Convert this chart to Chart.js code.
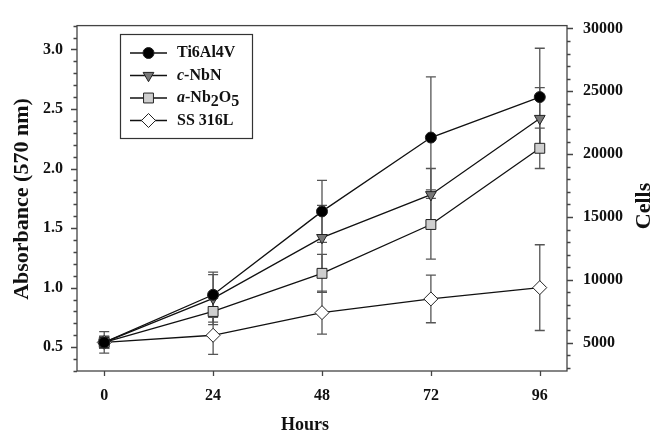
<!DOCTYPE html>
<html>
<head>
<meta charset="utf-8">
<script src="https://cdn.jsdelivr.net/npm/chart.js@4"></script>
<style>
  html, body { margin: 0; padding: 0; background: #fff; }
</style>
</head>
<body>
<canvas id="chart" width="654" height="434"></canvas>
<script>
// === Data ===
const hours = [0, 24, 48, 72, 96];
const absTicks = [0.5, 1.0, 1.5, 2.0, 2.5, 3.0];
const cellTicks = [5000, 10000, 15000, 20000, 25000, 30000];

const ti6al4v = [0.54, 0.94, 1.64, 2.26, 2.60];
const ti6al4vErr = [0.05, 0.19, 0.26, 0.51, 0.41];
const cNbN = [0.54, 0.91, 1.42, 1.78, 2.42];
const cNbNErr = [0.05, 0.20, 0.27, 0.22, 0.26];
const aNb2O5 = [0.54, 0.80, 1.12, 1.53, 2.17];
const aNb2O5Err = [0.05, 0.11, 0.16, 0.29, 0.17];
const ss316L = [0.54, 0.60, 0.79, 0.905, 1.00];
const ss316LErr = [0.09, 0.16, 0.18, 0.20, 0.36];

const seriesNames = ["Ti6Al4V", "c-NbN", "a-Nb2O5", "SS 316L"];
// legend text pieces: [text, "" | "i" (italic) | "sub"]
const legendParts = [
  [["Ti6Al4V", ""]],
  [["c", "i"], ["-NbN", ""]],
  [["a", "i"], ["-Nb", ""], ["2", "sub"], ["O", ""], ["5", "sub"]],
  [["SS 316L", ""]],
];

const FONT = "'Liberation Serif', 'Times New Roman', serif";
const INK = "#111";

function series(i, vals, err, style, fill, radius, rotation) {
  return {
    label: seriesNames[i],
    data: hours.map((h, k) => ({ x: h, y: vals[k] })),
    err: err,
    borderColor: "#111",
    borderWidth: 1.3,
    pointStyle: style,
    pointRadius: radius,
    pointHoverRadius: radius,
    pointRotation: rotation || 0,
    pointBackgroundColor: fill,
    pointBorderColor: "#222",
    pointBorderWidth: 1,
    tension: 0,
    fill: false,
  };
}

const datasets = [
  series(0, ti6al4v, ti6al4vErr, "circle", "#000", 5.5),
  series(1, cNbN, cNbNErr, "triangle", "#777", 6.2, 180),
  series(2, aNb2O5, aNb2O5Err, "rect", "#cfcfcf", 7),
  series(3, ss316L, ss316LErr, "rectRot", "#fff", 7),
];

// error bars, frame, minor ticks, titles and legend
const extras = {
  id: "extras",
  beforeDatasetsDraw(chart) {
    const { ctx } = chart;
    const x = chart.scales.x, y = chart.scales.y;
    ctx.save();
    ctx.strokeStyle = "#555";
    ctx.lineWidth = 1.3;
    chart.data.datasets.forEach(ds => {
      ds.data.forEach((p, i) => {
        const e = ds.err[i];
        const px = x.getPixelForValue(p.x);
        const top = y.getPixelForValue(p.y + e);
        const bot = y.getPixelForValue(p.y - e);
        ctx.beginPath();
        ctx.moveTo(px, top); ctx.lineTo(px, bot);
        ctx.moveTo(px - 5, top); ctx.lineTo(px + 5, top);
        ctx.moveTo(px - 5, bot); ctx.lineTo(px + 5, bot);
        ctx.stroke();
      });
    });
    ctx.restore();
  },
  afterDraw(chart) {
    const { ctx, chartArea: a } = chart;
    const x = chart.scales.x, y = chart.scales.y, y2 = chart.scales.y2;
    ctx.save();
    ctx.strokeStyle = "#444";
    ctx.lineWidth = 1.3;
    ctx.strokeRect(a.left, a.top, a.right - a.left, a.bottom - a.top);

    ctx.beginPath();
    // left axis: major 0.5, minor 0.1
    for (let k = 3; k <= 32; k++) {
      const py = Math.round(y.getPixelForValue(k / 10)) + 0.5;
      const len = k % 5 === 0 ? 6 : 3.5;
      ctx.moveTo(a.left, py); ctx.lineTo(a.left - len, py);
    }
    // right axis: major 5000, minor 1000
    for (let v = 3000; v <= 30000; v += 1000) {
      const py = Math.round(y2.getPixelForValue(v)) + 0.5;
      const len = v % 5000 === 0 ? 6 : 3.5;
      ctx.moveTo(a.right, py); ctx.lineTo(a.right + len, py);
    }
    hours.forEach(h => {
      const px = Math.round(x.getPixelForValue(h)) + 0.5;
      ctx.moveTo(px, a.bottom); ctx.lineTo(px, a.bottom + 5);
    });
    ctx.stroke();

    // axis titles
    ctx.fillStyle = INK;
    ctx.textAlign = "center";
    ctx.textBaseline = "middle";
    ctx.font = "bold 18px " + FONT;
    ctx.fillText("Hours", 305, 425);
    ctx.font = "bold 22px " + FONT;
    ctx.save();
    ctx.translate(22, 199);
    ctx.rotate(-Math.PI / 2);
    ctx.fillText("Absorbance (570 nm)", 0, 0);
    ctx.restore();
    ctx.save();
    ctx.translate(644, 206);
    ctx.rotate(-Math.PI / 2);
    ctx.fillText("Cells", 0, 0);
    ctx.restore();

    // legend
    const bx = 120, by = 34, bw = 132, rowH = 22.5;
    ctx.fillStyle = "#fff";
    ctx.fillRect(bx, by, bw, rowH * 4 + 14);
    ctx.strokeStyle = "#333";
    ctx.lineWidth = 1.2;
    ctx.strokeRect(bx + 0.5, by + 0.5, bw, rowH * 4 + 14);
    chart.data.datasets.forEach((ds, i) => {
      const cy = by + 19 + i * rowH;
      ctx.strokeStyle = "#111";
      ctx.lineWidth = 1.3;
      ctx.beginPath();
      ctx.moveTo(130, cy); ctx.lineTo(167, cy);
      ctx.stroke();
      ctx.fillStyle = ds.pointBackgroundColor;
      ctx.strokeStyle = ds.pointBorderColor;
      ctx.lineWidth = 1;
      Chart.helpers.drawPoint(ctx, {
        pointStyle: ds.pointStyle, radius: ds.pointRadius,
        rotation: ds.pointRotation, borderWidth: 1,
      }, 148.5, cy);
      let tx = 177;
      ctx.fillStyle = INK;
      ctx.textAlign = "left";
      ctx.textBaseline = "middle";
      legendParts[i].forEach(([t, kind]) => {
        ctx.font = (kind === "i" ? "italic " : "") + "bold 16px " + FONT;
        ctx.fillText(t, tx, kind === "sub" ? cy + 4 : cy);
        tx += ctx.measureText(t).width;
      });
    });
    ctx.restore();
  },
};

const tickFont = { family: FONT, size: 16, weight: "bold" };

new Chart(document.getElementById("chart"), {
  type: "line",
  data: { datasets },
  plugins: [extras],
  options: {
    responsive: false,
    animation: false,
    layout: { padding: { top: 17, left: 0, right: 0, bottom: 0 } },
    plugins: { legend: { display: false }, tooltip: { enabled: false } },
    scales: {
      x: {
        type: "linear",
        min: -6, max: 102,
        grid: { display: false, drawTicks: false },
        border: { display: false },
        afterBuildTicks: s => { s.ticks = hours.map(v => ({ value: v })); },
        afterFit: s => { s.height = 63; },
        ticks: { font: tickFont, color: INK, padding: 15, maxRotation: 0, callback: v => String(v) },
      },
      y: {
        type: "linear",
        position: "left",
        min: 0.3, max: 3.2,
        grid: { display: false, drawTicks: false },
        border: { display: false },
        afterBuildTicks: s => { s.ticks = absTicks.map(v => ({ value: v })); },
        afterFit: s => { s.width = 77; },
        ticks: { font: tickFont, color: INK, padding: 14, callback: v => Number(v).toFixed(1) },
      },
      y2: {
        type: "linear",
        position: "right",
        min: 2750, max: 30230,
        grid: { display: false, drawTicks: false },
        border: { display: false },
        afterBuildTicks: s => { s.ticks = cellTicks.map(v => ({ value: v })); },
        afterFit: s => { s.width = 87; },
        ticks: { font: tickFont, color: INK, padding: 16, callback: v => String(v) },
      },
    },
  },
});
</script>
</body>
</html>
